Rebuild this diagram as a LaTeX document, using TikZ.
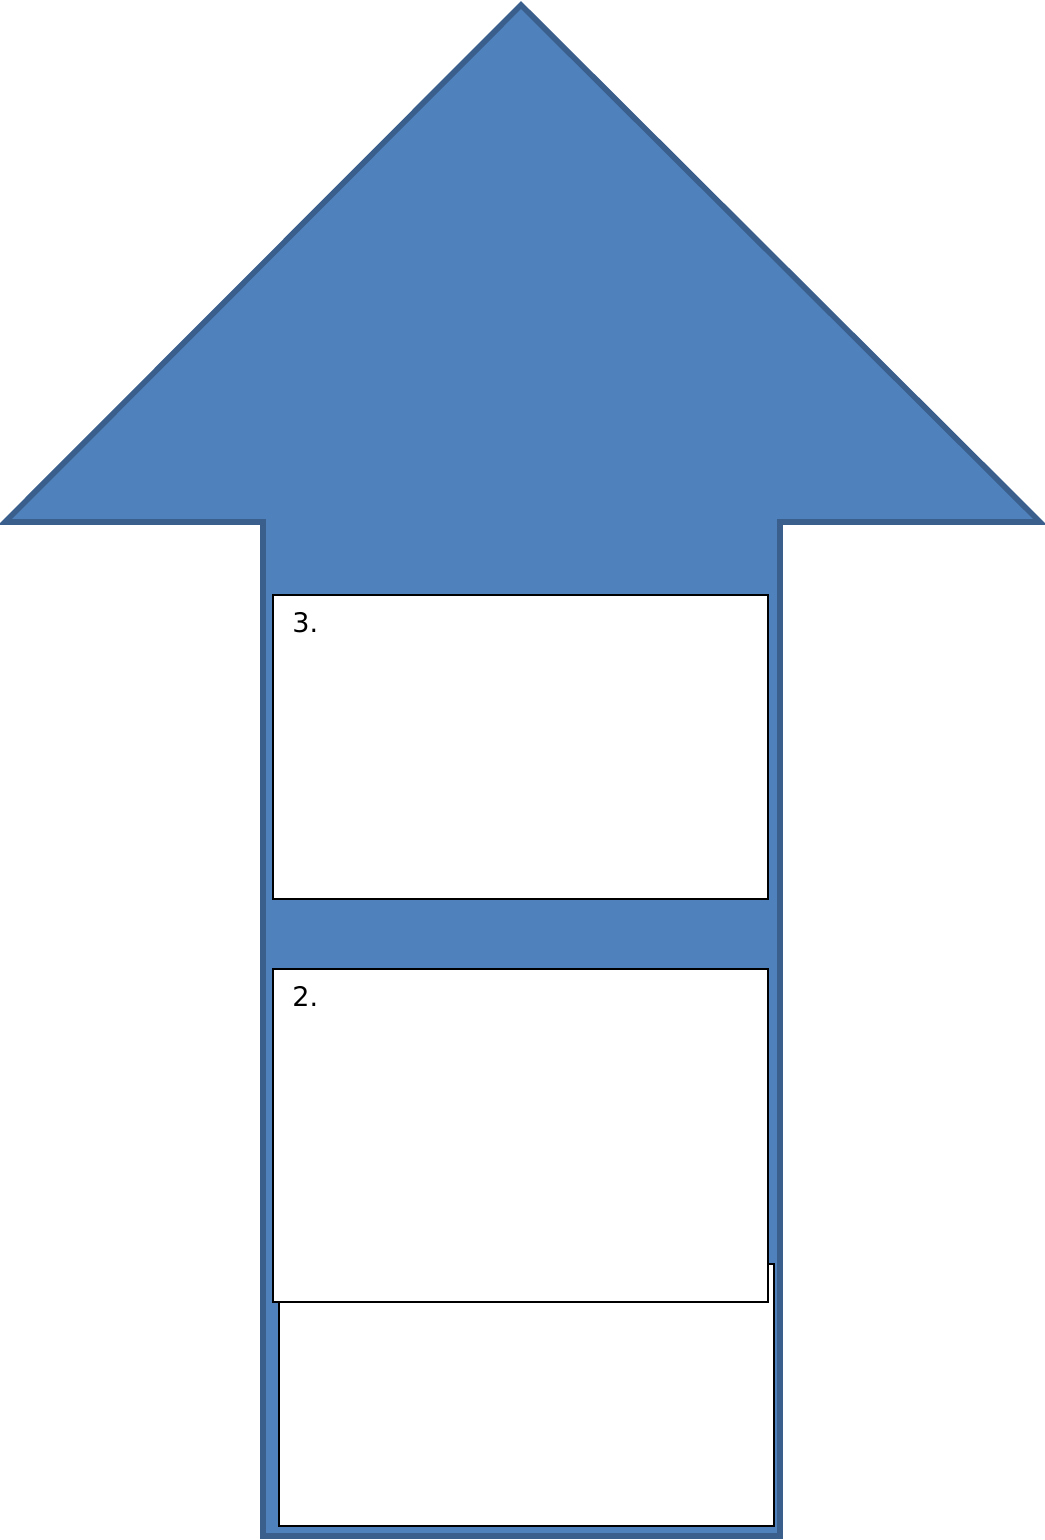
\documentclass[tikz,border=0pt]{standalone}
\usepackage{fontspec}
\setmainfont{DejaVu Sans}
\definecolor{arrowfill}{HTML}{4F81BD}
\definecolor{arrowline}{HTML}{3A5F8C}
\begin{document}
\begin{tikzpicture}[x=0.5pt,y=-0.5pt,line join=miter,
  arrowshape/.style={fill=arrowfill,draw=arrowline,line width=2.8pt},
  stepbox/.style={fill=white,draw=black,line width=1.3pt},
  steplabel/.style={anchor=base west,inner sep=0pt,font=\fontsize{13.5}{16}\selectfont}]
  \useasboundingbox (0,0) rectangle (1044,1540);
  \coordinate (T) at (521,5);
  \coordinate (WL) at (5,522);
  \coordinate (WR) at (1040,522);
  \coordinate (SL) at (263,522);
  \coordinate (SR) at (780,522);
  \coordinate (BL) at (263,1536);
  \coordinate (BR) at (780,1536);

  % Pfeil
  \draw[arrowshape] (T) -- (WR) -- (SR) -- (BR) -- (BL) -- (SL) -- (WL) -- cycle;

  % Kästen
  \draw[stepbox] (279,1264) rectangle (774,1526);
  \draw[stepbox] (273,969) rectangle (768,1302);
  \draw[stepbox] (273,595) rectangle (768,899);

  % Nummern
  \node[steplabel] (n3) at (292,632) {3.};
  \node[steplabel] (n2) at (292,1006) {2.};
\end{tikzpicture}
\end{document}
